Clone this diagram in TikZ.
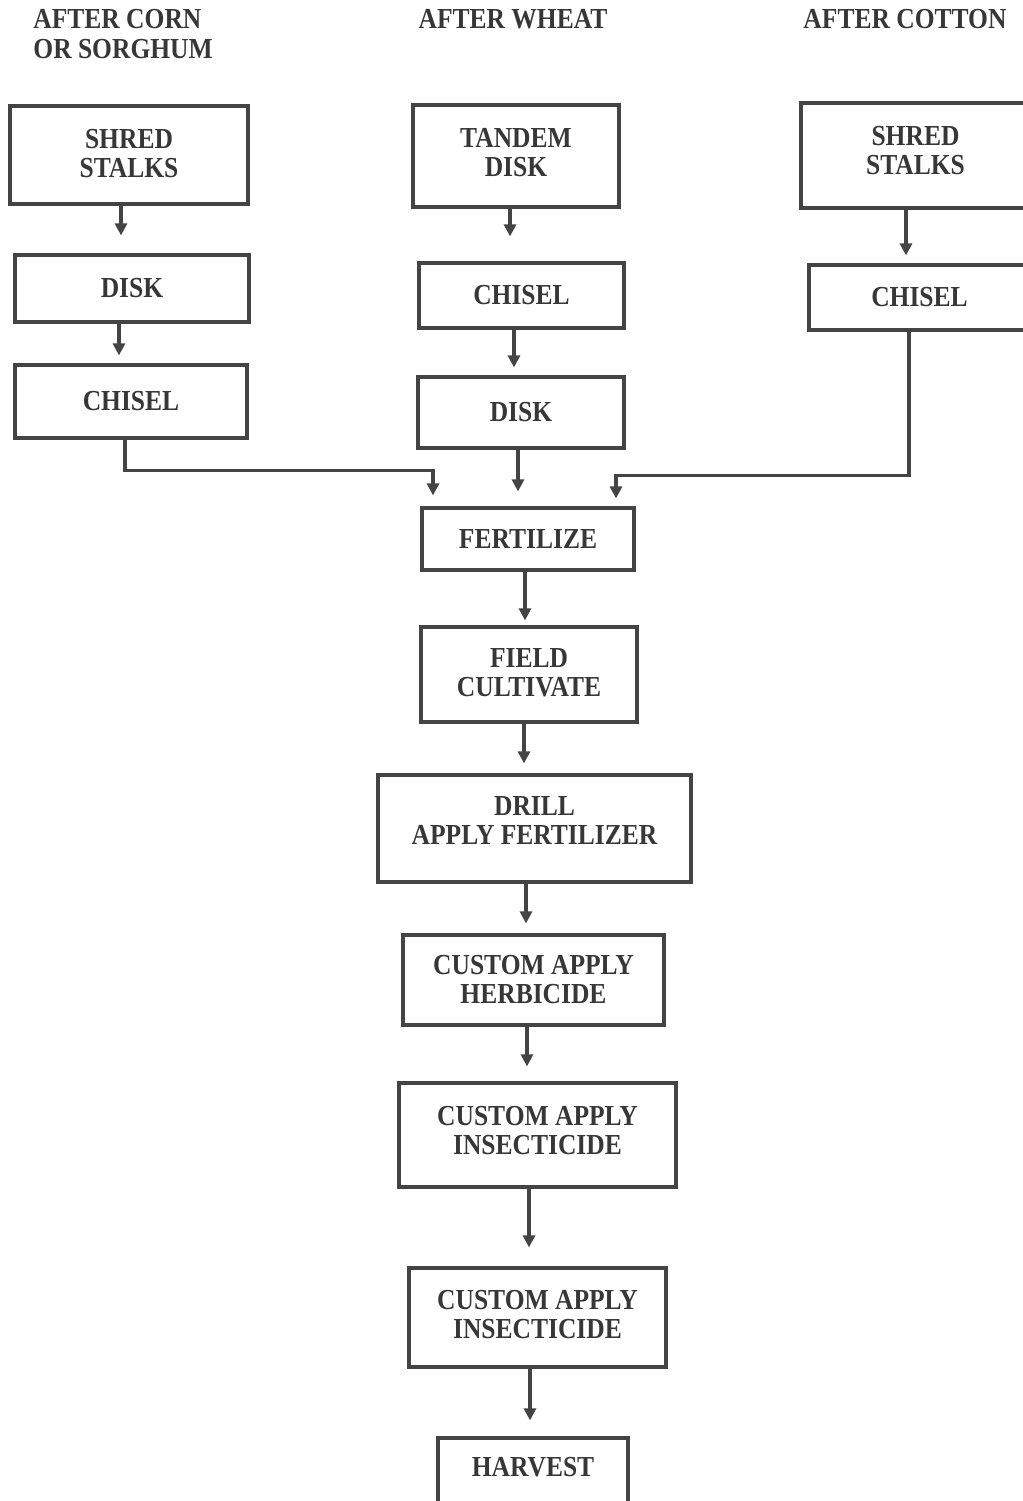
\documentclass[tikz,border=0pt]{standalone}
\usepackage{fontspec}
\setmainfont{Liberation Serif}[FakeStretch=0.88]
\usetikzlibrary{arrows.meta}
\definecolor{ink}{RGB}{55,55,55}
\definecolor{rule}{RGB}{68,68,68}
\begin{document}
\begin{tikzpicture}[x=0.5pt,y=-0.5pt,
  txt/.style={font=\bfseries\fontsize{14.5}{14.5}\selectfont, text=ink},
  box/.style={txt, draw=rule, line width=1.6pt, rectangle, inner sep=0pt, align=center},
  hdr/.style={txt, inner sep=0pt},
  arr/.style={draw=rule, line width=1.6pt, -{Triangle[length=6pt,width=6pt]}}]
\useasboundingbox (0,0) rectangle (1023,1501);
\clip (0,0) rectangle (1023,1501);
% headers
\node[hdr, anchor=base west] (h1) at (33,28) {AFTER CORN};
\node[hdr, anchor=base west] (h1b) at (33,58) {OR SORGHUM};
\node[hdr, anchor=base] (h2) at (513,28) {AFTER WHEAT};
\node[hdr, anchor=base] (h3) at (905,28) {AFTER COTTON};
% left column
\node[box, minimum width=119pt, minimum height=49pt, text depth=2pt] (ls) at (129,155) {SHRED\\STALKS};
\node[box, minimum width=117pt, minimum height=33.5pt] (ld) at (132,288.5) {DISK};
\node[box, minimum width=116pt, minimum height=36.5pt] (lc) at (131,401.5) {CHISEL};
% middle column
\node[box, minimum width=103pt, minimum height=51pt, text depth=4pt] (mt) at (516,156) {TANDEM\\DISK};
\node[box, minimum width=102.5pt, minimum height=32.5pt] (mc) at (521.5,295.5) {CHISEL};
\node[box, minimum width=103pt, minimum height=35.5pt] (md) at (521,412.5) {DISK};
% right column
\node[box, minimum width=114.5pt, minimum height=52.5pt, text depth=5pt] (rs) at (915.5,155.5) {SHRED\\STALKS};
\node[box, minimum width=110.5pt, minimum height=32.5pt] (rc) at (919.5,297.5) {CHISEL};
% main chain
\node[box, minimum width=106pt, minimum height=31pt] (fe) at (528,539) {FERTILIZE};
\node[box, minimum width=108pt, minimum height=47.5pt, text depth=2pt] (fc) at (529,674.5) {FIELD\\CULTIVATE};
\node[box, minimum width=156.5pt, minimum height=53.5pt, text depth=8pt] (dr) at (534.5,828.5) {DRILL\\APPLY FERTILIZER};
\node[box, minimum width=130.5pt, minimum height=45pt] (he) at (533.5,980) {CUSTOM APPLY\\HERBICIDE};
\node[box, minimum width=138.5pt, minimum height=52pt, text depth=5pt] (i1) at (537.5,1135) {CUSTOM APPLY\\INSECTICIDE};
\node[box, minimum width=128.5pt, minimum height=49.5pt, text depth=3pt] (i2) at (537.5,1317.5) {CUSTOM APPLY\\INSECTICIDE};
\node[box, minimum width=95pt, minimum height=36pt, text depth=7pt] (hv) at (533,1474) {HARVEST};
% connectors
\draw[arr, shorten >=9pt] ([shift={(-8,0)}]ls.south) -- ([shift={(-8,0)}]ls.south |- ld.north);
\draw[arr, shorten >=4pt] ([shift={(-13,0)}]ld.south) -- ([shift={(-13,0)}]ld.south |- lc.north);
\draw[arr, shorten >=12.5pt] ([shift={(-6,0)}]mt.south) -- ([shift={(-6,0)}]mt.south |- mc.north);
\draw[arr, shorten >=4pt] ([shift={(-7.5,0)}]mc.south) -- ([shift={(-7.5,0)}]mc.south |- md.north);
\draw[arr, shorten >=7.5pt] ([shift={(-3,0)}]md.south) -- ([shift={(-3,0)}]md.south |- fe.north);
\draw[arr, shorten >=4pt] ([shift={(-9.5,0)}]rs.south) -- ([shift={(-9.5,0)}]rs.south |- rc.north);
\draw[arr, shorten >=5.5pt] ([shift={(-6,0)}]lc.south) |- ([shift={(-95,-36)}]fe.north) -- ([shift={(-95,0)}]fe.north);
\draw[arr, shorten >=4pt] ([shift={(-10.5,0)}]rc.south) |- ([shift={(88,-31)}]fe.north) -- ([shift={(88,0)}]fe.north);
\draw[arr, shorten >=2.5pt] ([shift={(-3,0)}]fe.south) -- ([shift={(-3,0)}]fe.south |- fc.north);
\draw[arr, shorten >=5pt] ([shift={(-5,0)}]fc.south) -- ([shift={(-5,0)}]fc.south |- dr.north);
\draw[arr, shorten >=5pt] ([shift={(-8.5,0)}]dr.south) -- ([shift={(-8.5,0)}]dr.south |- he.north);
\draw[arr, shorten >=7.5pt] ([shift={(-6.5,0)}]he.south) -- ([shift={(-6.5,0)}]he.south |- i1.north);
\draw[arr, shorten >=9.5pt] ([shift={(-8.5,0)}]i1.south) -- ([shift={(-8.5,0)}]i1.south |- i2.north);
\draw[arr, shorten >=8pt] ([shift={(-7.5,0)}]i2.south) -- ([shift={(-7.5,0)}]i2.south |- hv.north);
\end{tikzpicture}
\end{document}
